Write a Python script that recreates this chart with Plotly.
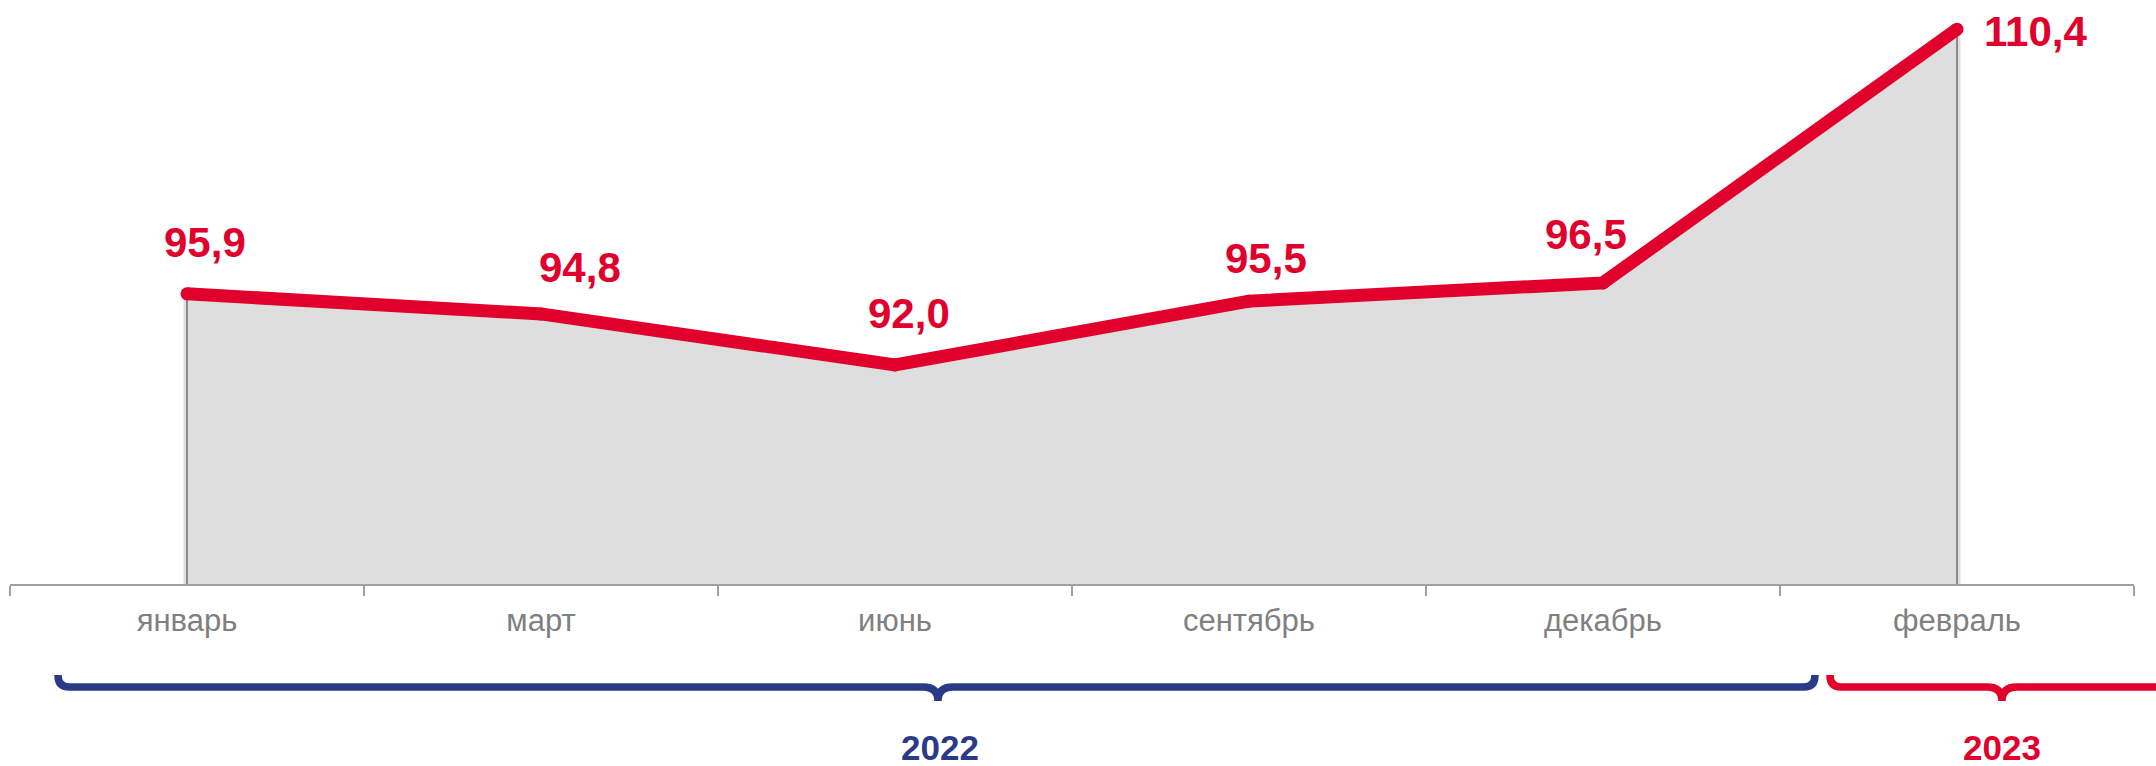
import plotly.graph_objects as go

# ---- data ----
months = ["январь", "март", "июнь", "сентябрь", "декабрь", "февраль"]
values = [95.9, 94.8, 92.0, 95.5, 96.5, 110.4]
value_labels = ["95,9", "94,8", "92,0", "95,5", "96,5", "110,4"]
years = ["2022", "2023"]

# ---- style ----
W, H = 2156, 766
ML, MR, MT, MB = 10, 22, 0, 182
Y_MIN, Y_MAX = 80, 112
RED = "#E1002B"
BLUE = "#2B3A87"
FILL = "#DEDEDE"
TICK_GREY = "#808080"
FONT = "Liberation Sans, Arial, sans-serif"

# label offsets in pixels (dx, dy up)
label_dx = [18, 39, 14, 17, -17, 78]
label_dy = [51, 46, 52, 43, 48, -2]

plot_w = W - ML - MR
plot_h = H - MT - MB


def px(x):
    return (x - ML) / plot_w


def py(y):
    return (H - MB - y) / plot_h


fig = go.Figure()

poly_x = [months[0]] + months + [months[-1]]
poly_y = [Y_MIN] + values + [Y_MIN]

# soft shadow around the area
fig.add_trace(go.Scatter(
    x=poly_x, y=poly_y, mode="lines",
    line=dict(color="rgba(0,0,0,0.13)", width=7),
    hoverinfo="skip", showlegend=False,
))
# grey area
fig.add_trace(go.Scatter(
    x=poly_x, y=poly_y, mode="lines", fill="toself", fillcolor=FILL,
    line=dict(color="#8a8a8a", width=2),
    hoverinfo="skip", showlegend=False,
))
# red line
fig.add_trace(go.Scatter(
    x=months, y=values, mode="lines+markers",
    line=dict(color=RED, width=13),
    marker=dict(color=RED, size=13, line=dict(width=0)),
    hoverinfo="skip", showlegend=False,
))

for m, v, t, dx, dy in zip(months, values, value_labels, label_dx, label_dy):
    fig.add_annotation(
        x=m, y=v, text=t, showarrow=False, xshift=dx, yshift=dy,
        font=dict(family=FONT, size=42, color=RED, weight="bold"),
        xanchor="center", yanchor="middle",
    )


def brace(x0, xc, x1, y_end, y_line, y_tip, r=11, k=15):
    pts = [
        f"M{px(x0)},{py(y_end)}",
        f"Q{px(x0)},{py(y_line)} {px(x0 + r)},{py(y_line)}",
        f"L{px(xc - k)},{py(y_line)}",
        f"Q{px(xc)},{py(y_line)} {px(xc)},{py(y_tip)}",
        f"Q{px(xc)},{py(y_line)} {px(xc + k)},{py(y_line)}",
        f"L{px(x1 - r)},{py(y_line)}",
        f"Q{px(x1)},{py(y_line)} {px(x1)},{py(y_end)}",
    ]
    return " ".join(pts)


fig.add_shape(type="path", xref="paper", yref="paper",
              path=brace(58, 938, 1815, 675, 687, 701),
              line=dict(color=BLUE, width=7.5), fillcolor="rgba(0,0,0,0)")
fig.add_shape(type="path", xref="paper", yref="paper",
              path=brace(1830, 2002, 2174, 675, 687, 701),
              line=dict(color=RED, width=7.5), fillcolor="rgba(0,0,0,0)")

fig.add_annotation(x=px(940), y=py(747), xref="paper", yref="paper",
                   xanchor="center", yanchor="middle",
                   text=years[0], showarrow=False,
                   font=dict(family=FONT, size=35, color=BLUE, weight="bold"))
fig.add_annotation(x=px(2002), y=py(747), xref="paper", yref="paper",
                   xanchor="center", yanchor="middle",
                   text=years[1], showarrow=False,
                   font=dict(family=FONT, size=35, color=RED, weight="bold"))

fig.update_layout(
    width=W, height=H,
    margin=dict(l=ML, r=MR, t=MT, b=MB, pad=0),
    paper_bgcolor="white", plot_bgcolor="white",
    showlegend=False,
    xaxis=dict(
        type="category", categoryorder="array", categoryarray=months,
        range=[-0.5, len(months) - 0.5],
        tickson="boundaries", ticks="outside", ticklen=10,
        tickcolor="#A0A0A0", tickwidth=1.5,
        showline=True, linecolor="#A0A0A0", linewidth=1.5,
        showgrid=False, zeroline=False,
        tickfont=dict(family=FONT, size=31, color=TICK_GREY),
        ticklabelstandoff=8,
    ),
    yaxis=dict(range=[Y_MIN, Y_MAX], visible=False, showgrid=False),
)

fig.write_html("out.html",
               config={"displayModeBar": False, "staticPlot": True},
               post_script="document.body.style.margin='0';")
